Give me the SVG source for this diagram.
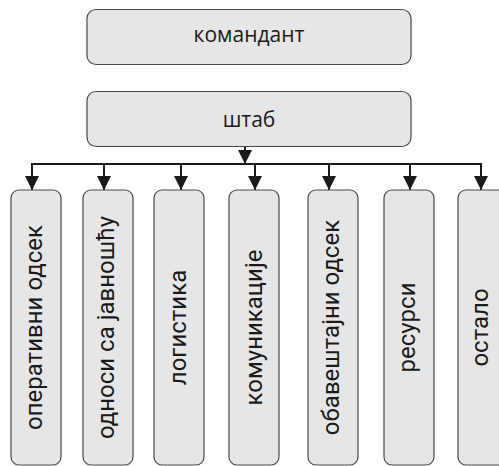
<svg xmlns="http://www.w3.org/2000/svg" width="499" height="466" viewBox="0 0 499 466">
<style>
.box{fill:#e6e6e7;stroke:#4a4a4a;stroke-width:1.2}
.t{font-family:"Open Sans","Liberation Sans",sans-serif;font-size:21px;fill:#1a1a1a;text-anchor:middle}
.v{font-family:Roboto,"Liberation Sans",Arial,sans-serif;font-size:24px;fill:#1a1a1a;text-anchor:middle}
.c{fill:none;stroke:#1a1a1a;stroke-width:2}
</style>
<defs>
<marker id="ah" markerUnits="userSpaceOnUse" markerWidth="14" markerHeight="16" refX="14" refY="7" orient="auto" viewBox="0 0 14 14">
<path d="M0,0 L14,7 L0,14 Z" fill="#1a1a1a"/>
</marker>
</defs>
<rect width="499" height="466" fill="#ffffff"/>
<g id="connectors">
<path class="c" d="M245,146 V164" marker-end="url(#ah)"/>
<path class="c" d="M31,164 H482"/>
<path class="c" d="M32,164 V190" marker-end="url(#ah)"/>
<path class="c" d="M104,164 V190" marker-end="url(#ah)"/>
<path class="c" d="M181,164 V190" marker-end="url(#ah)"/>
<path class="c" d="M255,164 V190" marker-end="url(#ah)"/>
<path class="c" d="M329,164 V190" marker-end="url(#ah)"/>
<path class="c" d="M410,164 V190" marker-end="url(#ah)"/>
<path class="c" d="M481,164 V190" marker-end="url(#ah)"/>
</g>
<g id="komandant">
<rect class="box" x="87" y="9.5" width="324" height="55" rx="9"/>
<text class="t" x="249" y="42">командант</text>
</g>
<g id="shtab">
<rect class="box" x="87" y="91.5" width="324" height="55" rx="9"/>
<text class="t" x="249" y="127">штаб</text>
</g>
<g id="operativni">
<rect class="box" x="11" y="190" width="50" height="275" rx="8"/>
<text class="v" transform="translate(42,327.5) rotate(-90)">оперативни одсек</text>
</g>
<g id="odnosi">
<rect class="box" x="83" y="190" width="50" height="275" rx="8"/>
<text class="v" transform="translate(114,327.5) rotate(-90)">односи са јавношћу</text>
</g>
<g id="logistika">
<rect class="box" x="154" y="190" width="50" height="275" rx="8"/>
<text class="v" transform="translate(186,327.5) rotate(-90)">логистика</text>
</g>
<g id="komunikacije">
<rect class="box" x="229" y="190" width="50" height="275" rx="8"/>
<text class="v" transform="translate(262,327.5) rotate(-90)">комуникације</text>
</g>
<g id="obavestajni">
<rect class="box" x="308" y="190" width="50" height="275" rx="8"/>
<text class="v" transform="translate(339,327.5) rotate(-90)">обавештајни одсек</text>
</g>
<g id="resursi">
<rect class="box" x="384" y="190" width="50" height="275" rx="8"/>
<text class="v" transform="translate(415,327.5) rotate(-90)">ресурси</text>
</g>
<g id="ostalo">
<rect class="box" x="458" y="190" width="50" height="275" rx="8"/>
<text class="v" transform="translate(488,327.5) rotate(-90)">остало</text>
</g>
</svg>
